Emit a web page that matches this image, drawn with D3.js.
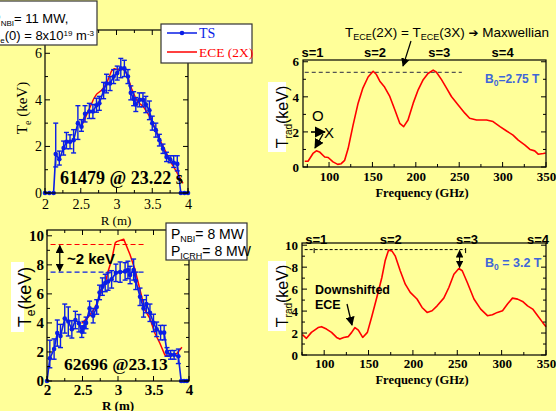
<!DOCTYPE html>
<html><head><meta charset="utf-8">
<script src="https://cdn.jsdelivr.net/npm/d3@7"></script>
<style>body{margin:0;background:#FFFF99;} svg{display:block}</style>
</head><body>
<svg id="c" width="556" height="411"></svg>
<script>
// ---------- DATA ----------
// Top-left: shot 61479 @ 23.22 s
const tsTopR  = [2.00,2.06,2.12,2.15,2.20,2.26,2.30,2.35,2.40,2.46,2.51,2.56,2.62,2.67,2.72,2.76,2.82,2.86,2.91,2.96,3.01,3.06,3.11,3.16,3.20,3.24,3.27,3.32,3.37,3.41,3.46,3.50,3.55,3.60,3.65,3.70,3.75,3.80,3.85,3.90,3.95,4.00];
const tsTopT  = [0,0,0,1.67,1.45,1.93,2.2,2.2,2.27,3.0,2.85,3.4,3.5,3.5,3.77,3.85,4.4,4.7,4.7,5.0,5.15,5.35,5.35,5.0,4.3,4.05,3.8,4.0,4.0,3.8,3.55,3.0,2.7,2.27,1.9,1.55,1.45,1.3,1.25,0,0,0];
const tsTopLo = [0,0,0,0.55,0.25,0.3,0.3,0.3,0.55,0.7,0.2,0.35,0.3,0.3,0.3,0.3,0.35,0.4,0.3,0.3,0.3,0.4,0.35,0.3,0.3,0.3,0.3,0.3,0.3,0.35,0.4,0.3,0.3,0.25,0.2,0.2,0.15,0.2,0.3,0,0,0];
const tsTopHi = [0,0,0,1.33,0.35,0.3,0.4,0.3,0.45,0.75,0.3,0.35,0.35,0.3,0.3,0.3,0.35,0.4,0.3,0.3,0.3,0.43,0.35,0.3,0.3,0.3,0.3,0.3,0.3,0.35,0.4,0.3,0.3,0.25,0.2,0.2,0.15,0.3,0.35,0,0,0];
const eceTopR = [2.51,2.59,2.68,2.72,2.79,2.86,2.93,2.97,3.02,3.07,3.12,3.16,3.21,3.26,3.30,3.37,3.44,3.50,3.56,3.63,3.70,3.77,3.84,3.93];
const eceTopT = [2.87,3.41,4.04,4.24,4.41,4.7,5.24,5.34,5.3,5.35,5.25,4.96,4.49,4.13,3.9,3.73,3.41,3.06,2.63,2.13,1.7,1.27,0.91,0.41];

// Bottom-left: shot 62696 @ 23.13 s
const tsBotR  = [2.00,2.04,2.10,2.145,2.19,2.25,2.30,2.35,2.40,2.45,2.49,2.52,2.55,2.60,2.65,2.70,2.74,2.78,2.82,2.86,2.91,2.97,3.03,3.10,3.14,3.17,3.22,3.25,3.31,3.36,3.40,3.45,3.50,3.545,3.60,3.65,3.69,3.74,3.79,3.85,3.89,3.93,3.97];
const tsBotT  = [0,1.56,2.2,3.3,3.1,4.3,4.1,3.56,4.2,3.98,3.4,3.7,4.0,5.0,4.5,5.1,6.1,6.5,6.75,6.85,7.0,7.45,7.5,7.55,7.65,7.3,7.65,6.9,5.8,5.0,5.3,4.7,4.0,3.56,3.33,3.33,2.0,1.8,1.8,1.7,0,0,0];
const tsBotLo = [0,0.65,0.7,0.9,0.8,1.0,1.0,0.6,0.6,0.6,0.4,0.4,0.4,0.5,0.5,0.5,0.5,0.6,0.6,0.6,0.6,0.6,0.7,0.6,0.6,0.6,0.7,0.6,0.6,0.6,0.6,0.6,0.6,0.5,0.5,0.5,0.3,0.3,0.3,0.5,0,0,0];
const tsBotHi = [0,1.25,0.7,0.9,0.8,1.0,1.0,0.6,0.6,0.6,0.4,0.4,0.4,0.5,0.5,0.5,0.5,0.6,0.6,0.6,0.6,0.6,0.7,0.6,0.6,0.6,0.75,0.6,0.6,0.6,0.6,0.6,0.6,0.5,0.5,0.5,0.3,0.3,0.3,0.5,0,0,0];
const eceBotR = [2.49,2.58,2.67,2.74,2.77,2.82,2.86,2.91,2.96,2.98,3.08,3.17,3.24,3.31,3.38,3.45,3.52,3.59,3.66,3.70,3.76,3.83,3.90];
const eceBotT = [3.98,4.4,4.98,5.8,6.3,6.74,7.54,8.34,9.5,9.6,9.77,8.69,7.66,6.28,4.9,4.3,3.29,2.6,1.79,1.72,1.75,1.9,2.32];

// Top-right: radiation temperature spectrum, B0 = 2.75 T
const radTopF = [72,75.8,81.5,85.4,89,95,99,104.6,110,114,118,122,127.7,133.5,139,145,150.8,154.6,158.5,164,170,175.8,181.5,186,191,197,202.7,208.5,214,220,223.8,229.6,235.4,241,248.8,256.5,262,270,281.5,289,297,304.6,312,318,325.8,331.5,337,341,347,349.6];
const radTopT = [0.33,0.33,0.77,0.92,0.86,0.57,0.54,0.29,0.15,0.19,0.38,1.05,2.39,3.64,4.5,5.13,5.46,5.27,4.89,4.56,4.02,3.26,2.49,2.3,2.68,3.64,4.4,4.98,5.33,5.52,5.4,4.98,4.5,4.02,3.54,3.07,2.78,2.68,2.68,2.59,2.3,2.05,1.82,1.53,1.25,1.0,0.92,0.73,0.77,0.8];

// Bottom-right: radiation temperature spectrum, B0 = 3.2 T
const radBotF = [75.5,80,85.6,93.2,97,102.6,108.3,114,117.7,122,127,131,134.7,138.5,143.4,148.7,153.6,159.3,165,168.7,172.5,176.3,180,185.7,191.4,197,204.6,210.3,216,221.6,227.3,234.8,240.5,246.2,251.8,255.6,261.3,268.8,276.4,284,289.6,295.2,301,306.6,312.2,318,323.6,329.2,335,340.6,346.2,350];
const radBotT = [1.85,1.52,2.06,2.5,2.58,2.36,2.06,1.6,1.45,1.6,1.67,2.06,2.5,2.27,1.6,2.06,3.48,5.24,7.06,8.58,9.55,9.48,9.03,7.67,6.45,5.7,5.1,4.33,3.88,4.03,4.48,5.18,6.15,7.36,7.88,7.67,6.6,5.1,4.18,3.58,3.67,3.88,4.03,4.64,5.18,5.09,4.88,4.48,4.18,3.58,2.97,2.58];

// Tick labels and annotation values
const rTicks = [2,2.5,3,3.5,4];
const rMinor = [2.25,2.75,3.25,3.75];
const teTopTicks = [0,2,4,6];
const teTopMinor = [1,3,5];
const teBotTicks = [0,2,4,6,8,10];
const teBotMinor = [1,3,5,7,9];
const fTicks = [100,150,200,250,300,350];
const fMinor = [75,125,175,225,275,325];
const tradTopTicks = [0,2,4,6];
const tradTopMinor = [1,3,5];
const tradBotTicks = [0,2,4,6,8,10];
const tradBotMinor = [1,3,5,7,9];
const harmLabels = ["s=1","s=2","s=3","s=4"];
const harmTopF = [81,153,227,300];
const harmBotF = [91,175,261,341];
const maxwTop = 5.4;      // T_ECE(2X)=T_ECE(3X) level
const peakBot = 9.6;      // s=2 peak level (bottom)
const teBotEce = 9.4, teBotTs = 7.5; // ~2 keV difference

// ---------- DRAWING ----------
const svg = d3.select("#c");
svg.append("rect").attr("width",556).attr("height",411).attr("fill","#FFFF99");
const SERIF = "'Liberation Serif','Times New Roman',serif";
const SANS = "'Liberation Sans',Arial,sans-serif";
const BLUE = "#0A1EE6", RED = "#FF0000";

const defs = svg.append("defs");
defs.append("marker").attr("id","ah").attr("viewBox","0 0 10 10").attr("refX",9).attr("refY",5)
  .attr("markerWidth",7).attr("markerHeight",7).attr("orient","auto-start-reverse")
  .append("path").attr("d","M0,0 L10,5 L0,10 z").attr("fill","#000");

function inwardTicks(g, x, y, xMaj, xMin, yMaj, yMin, sides) {
  const [x0,x1] = x.range(), [y0,y1] = y.range();
  const L = 5, l = 3;
  const seg = [];
  xMaj.forEach(v=>{ seg.push([x(v),y0,x(v),y0-L]); if(sides.top) seg.push([x(v),y1,x(v),y1+L]); });
  xMin.forEach(v=>{ seg.push([x(v),y0,x(v),y0-l]); if(sides.top) seg.push([x(v),y1,x(v),y1+l]); });
  yMaj.forEach(v=>{ seg.push([x0,y(v),x0+L,y(v)]); seg.push([x1,y(v),x1-L,y(v)]); });
  yMin.forEach(v=>{ seg.push([x0,y(v),x0+l,y(v)]); seg.push([x1,y(v),x1-l,y(v)]); });
  g.selectAll(null).data(seg).enter().append("line")
    .attr("x1",d=>d[0]).attr("y1",d=>d[1]).attr("x2",d=>d[2]).attr("y2",d=>d[3])
    .attr("stroke","#000").attr("stroke-width",1);
}
function frame(g, x, y) {
  const [x0,x1] = x.range(), [y0,y1] = y.range();
  g.append("rect").attr("x",x0).attr("y",y1).attr("width",x1-x0).attr("height",y0-y1)
    .attr("fill","none").attr("stroke","#000").attr("stroke-width",1.2);
}
function axisLabels(g, x, y, xt, yt, font, size, weight, xpad, ypad) {
  const ax = g.append("g").attr("transform",`translate(0,${y.range()[0]})`)
    .call(d3.axisBottom(x).tickValues(xt).tickSize(0).tickPadding(xpad).tickFormat(d3.format("")));
  const ay = g.append("g").attr("transform",`translate(${x.range()[0]},0)`)
    .call(d3.axisLeft(y).tickValues(yt).tickSize(0).tickPadding(ypad).tickFormat(d3.format("d")));
  [ax,ay].forEach(a=>{ a.select(".domain").remove();
    a.selectAll("text").attr("font-family",font).attr("font-size",size).attr("font-weight",weight).attr("fill","#000"); });
}
function tsSeries(g, x, y, R, T, lo, hi) {
  const pts = R.map((r,i)=>({r, t:T[i], lo:lo[i], hi:hi[i]}));
  const eb = g.append("g").attr("stroke",BLUE).attr("stroke-width",1.4);
  pts.filter(p=>p.lo>0||p.hi>0).forEach(p=>{
    eb.append("line").attr("x1",x(p.r)).attr("x2",x(p.r)).attr("y1",y(p.t-p.lo)).attr("y2",y(p.t+p.hi));
    eb.append("line").attr("x1",x(p.r)-2.5).attr("x2",x(p.r)+2.5).attr("y1",y(p.t-p.lo)).attr("y2",y(p.t-p.lo));
    eb.append("line").attr("x1",x(p.r)-2.5).attr("x2",x(p.r)+2.5).attr("y1",y(p.t+p.hi)).attr("y2",y(p.t+p.hi));
  });
  g.append("path").datum(pts).attr("fill","none").attr("stroke",BLUE).attr("stroke-width",1.6)
    .attr("d", d3.line().x(p=>x(p.r)).y(p=>y(p.t)));
  g.selectAll(null).data(pts).enter().append("circle")
    .attr("cx",p=>x(p.r)).attr("cy",p=>y(p.t)).attr("r",2.3).attr("fill",BLUE);
}
function redLine(g, x, y, X, Y, w) {
  g.append("path").datum(X.map((v,i)=>[v,Y[i]])).attr("fill","none").attr("stroke",RED)
    .attr("stroke-width",w||1.5).attr("stroke-linejoin","round")
    .attr("d", d3.line().x(d=>x(d[0])).y(d=>y(d[1])));
}

// ===== Top-left panel =====
{
  const g = svg.append("g");
  const x = d3.scaleLinear([2,4],[45,188]);
  const y = d3.scaleLinear([0,7],[193,30]);
  redLine(g,x,y,eceTopR,eceTopT,1.4);
  tsSeries(g,x,y,tsTopR,tsTopT,tsTopLo,tsTopHi);
  frame(g,x,y);
  inwardTicks(g,x,y,rTicks,rMinor,teTopTicks,teTopMinor,{top:true});
  axisLabels(g,x,y,rTicks,teTopTicks,SERIF,14,"normal",6,3);
  g.append("text").attr("x",116).attr("y",225).attr("text-anchor","middle")
    .attr("font-family",SERIF).attr("font-size",13).text("R (m)");
  const yl = g.append("text").attr("transform","translate(27,108) rotate(-90)").attr("text-anchor","middle")
    .attr("font-family",SERIF).attr("font-size",15);
  yl.append("tspan").text("T");
  yl.append("tspan").text("e").attr("font-size",10).attr("dy",4);
  yl.append("tspan").text(" (keV)").attr("dy",-4);
  g.append("text").attr("x",60).attr("y",184).attr("font-family",SERIF).attr("font-size",18)
    .attr("font-weight","bold").text("61479 @ 23.22 s");
  // legend
  const lg = g.append("g");
  lg.append("rect").attr("x",161).attr("y",24).attr("width",91).attr("height",39)
    .attr("fill","#fff").attr("stroke","#333").attr("stroke-width",1.2);
  lg.append("line").attr("x1",167).attr("x2",197).attr("y1",33).attr("y2",33).attr("stroke",BLUE).attr("stroke-width",1.5);
  lg.append("circle").attr("cx",182).attr("cy",33).attr("r",2.3).attr("fill",BLUE);
  lg.append("text").attr("x",199).attr("y",38).attr("font-family",SERIF).attr("font-size",14).attr("fill",BLUE).text("TS");
  lg.append("line").attr("x1",167).attr("x2",197).attr("y1",52).attr("y2",52).attr("stroke",RED).attr("stroke-width",1.5);
  lg.append("text").attr("x",199).attr("y",57).attr("font-family",SERIF).attr("font-size",13.5).attr("fill",RED).text("ECE (2X)");
  // info box (cut by the left edge, as in the reference)
  const ib = g.append("g");
  ib.append("rect").attr("x",-5).attr("y",1).attr("width",102).attr("height",44)
    .attr("fill","#fff").attr("stroke","#333").attr("stroke-width",1.2);
  const t1 = ib.append("text").attr("x",-8).attr("y",23).attr("font-family",SANS).attr("font-size",13);
  t1.append("tspan").text("P");
  t1.append("tspan").text("NBI").attr("font-size",8).attr("dy",2.5);
  t1.append("tspan").text("= 11 MW,").attr("dy",-2.5);
  const t2 = ib.append("text").attr("x",-7).attr("y",40).attr("font-family",SANS).attr("font-size",13);
  t2.append("tspan").text("n");
  t2.append("tspan").text("e").attr("font-size",8).attr("dy",2.5);
  t2.append("tspan").text("(0) = 8x10").attr("dy",-2.5);
  t2.append("tspan").text("19").attr("font-size",8).attr("dy",-4);
  t2.append("tspan").text(" m").attr("dy",4);
  t2.append("tspan").text("-3").attr("font-size",8).attr("dy",-4);
}

// ===== Bottom-left panel =====
{
  const g = svg.append("g");
  const x = d3.scaleLinear([2,4],[47,189]);
  const y = d3.scaleLinear([0,10.4],[381,230]);
  redLine(g,x,y,eceBotR,eceBotT,1.5);
  tsSeries(g,x,y,tsBotR,tsBotT,tsBotLo,tsBotHi);
  frame(g,x,y);
  inwardTicks(g,x,y,rTicks,rMinor,teBotTicks,teBotMinor,{top:true});
  axisLabels(g,x,y,rTicks,teBotTicks,SERIF,15,"bold",3,3);
  g.append("text").attr("x",118).attr("y",410).attr("text-anchor","middle")
    .attr("font-family",SERIF).attr("font-size",13).attr("font-weight","bold").text("R (m)");
  g.append("rect").attr("x",11).attr("y",262).attr("width",13).attr("height",70).attr("fill","#fff");
  const yl = g.append("text").attr("transform","translate(31,297) rotate(-90)").attr("text-anchor","middle")
    .attr("font-family",SANS).attr("font-size",18);
  yl.append("tspan").text("T");
  yl.append("tspan").text("e").attr("font-size",12).attr("dy",4);
  yl.append("tspan").text("(keV)").attr("dy",-4);
  g.append("line").attr("x1",x(2.05)).attr("x2",x(3.4)).attr("y1",y(teBotEce)).attr("y2",y(teBotEce))
    .attr("stroke",RED).attr("stroke-width",1.2).attr("stroke-dasharray","5,3");
  g.append("line").attr("x1",x(2.05)).attr("x2",x(3.4)).attr("y1",y(teBotTs)).attr("y2",y(teBotTs))
    .attr("stroke",BLUE).attr("stroke-width",1.2).attr("stroke-dasharray","5,3");
  g.append("line").attr("x1",x(2.18)).attr("x2",x(2.18)).attr("y1",y(teBotEce)+1).attr("y2",y(teBotTs)-1)
    .attr("stroke","#000").attr("stroke-width",1.2).attr("marker-start","url(#ah)").attr("marker-end","url(#ah)");
  g.append("text").attr("x",67).attr("y",264).attr("font-family",SANS).attr("font-size",15)
    .attr("font-weight","bold").text("~2 keV");
  g.append("text").attr("x",64).attr("y",370).attr("font-family",SERIF).attr("font-size",17.5)
    .attr("font-weight","bold").text("62696 @23.13");
  const ib = g.append("g");
  ib.append("rect").attr("x",166).attr("y",223).attr("width",81).attr("height",37)
    .attr("fill","#fff").attr("stroke","#333").attr("stroke-width",1.2);
  [["NBI","= 8 MW",239],["ICRH","= 8 MW",256]].forEach(([s,v,yy])=>{
    const t = ib.append("text").attr("x",171).attr("y",yy).attr("font-family",SANS).attr("font-size",14);
    t.append("tspan").text("P");
    t.append("tspan").text(s).attr("font-size",9).attr("dy",3);
    t.append("tspan").text(v).attr("dy",-3);
  });
}

// ===== Top-right panel =====
{
  const g = svg.append("g");
  const x = d3.scaleLinear([70,350],[303,546]);
  const y = d3.scaleLinear([0,6.1],[167,60]);
  g.append("line").attr("x1",x(72)).attr("x2",x(253)).attr("y1",y(maxwTop)).attr("y2",y(maxwTop))
    .attr("stroke","#555").attr("stroke-width",1.2).attr("stroke-dasharray","4,3");
  redLine(g,x,y,radTopF,radTopT,1.6);
  frame(g,x,y);
  inwardTicks(g,x,y,fTicks,fMinor,tradTopTicks,tradTopMinor,{top:false});
  axisLabels(g,x,y,fTicks,tradTopTicks,SERIF,13,"bold",5,4);
  g.append("text").attr("x",422).attr("y",197).attr("text-anchor","middle")
    .attr("font-family",SERIF).attr("font-size",12.5).attr("font-weight","bold").text("Frequency (GHz)");
  g.append("rect").attr("x",268).attr("y",82).attr("width",18).attr("height",70).attr("fill","#fff");
  const yl = g.append("text").attr("transform","translate(288,117) rotate(-90)").attr("text-anchor","middle")
    .attr("font-family",SANS).attr("font-size",16);
  yl.append("tspan").text("T");
  yl.append("tspan").text("rad").attr("font-size",10).attr("dy",4);
  yl.append("tspan").text("(keV)").attr("dy",-4);
  harmLabels.forEach((s,i)=>g.append("text").attr("x",x(harmTopF[i])).attr("y",57).attr("text-anchor","middle")
    .attr("font-family",SANS).attr("font-size",13).attr("font-weight","bold").text(s));
  const tt = g.append("text").attr("x",345).attr("y",37).attr("font-family",SANS).attr("font-size",13.5);
  tt.append("tspan").text("T");
  tt.append("tspan").text("ECE").attr("font-size",9).attr("dy",3);
  tt.append("tspan").text("(2X) = T").attr("dy",-3);
  tt.append("tspan").text("ECE").attr("font-size",9).attr("dy",3);
  tt.append("tspan").text("(3X) ").attr("dy",-3);
  tt.append("tspan").text("➔").attr("font-family","'DejaVu Sans',sans-serif").attr("font-size",12);
  tt.append("tspan").text(" Maxwellian");
  g.append("line").attr("x1",411).attr("y1",41).attr("x2",403).attr("y2",66)
    .attr("stroke","#000").attr("stroke-width",1.2).attr("marker-end","url(#ah)");
  const b = g.append("text").attr("x",485).attr("y",83).attr("font-family",SANS).attr("font-size",12)
    .attr("font-weight","bold").attr("fill","#3F66D8");
  b.append("tspan").text("B");
  b.append("tspan").text("0").attr("font-size",8.5).attr("dy",3);
  b.append("tspan").text("=2.75 T").attr("dy",-3);
  g.append("text").attr("x",312).attr("y",121).attr("font-family",SANS).attr("font-size",15).text("O");
  g.append("line").attr("x1",311).attr("y1",132).attr("x2",325).attr("y2",132)
    .attr("stroke","#000").attr("stroke-width",1.6).attr("marker-end","url(#ah)");
  g.append("text").attr("x",324).attr("y",138).attr("font-family",SANS).attr("font-size",15).text("X");
  g.append("line").attr("x1",323).attr("y1",134).attr("x2",315).attr("y2",148)
    .attr("stroke","#000").attr("stroke-width",1.4).attr("marker-end","url(#ah)");
}

// ===== Bottom-right panel =====
{
  const g = svg.append("g");
  const x = d3.scaleLinear([75,350],[302,546]);
  const y = d3.scaleLinear([0,10.2],[355,243]);
  g.append("line").attr("x1",x(78)).attr("x2",x(259)).attr("y1",y(peakBot)).attr("y2",y(peakBot))
    .attr("stroke","#000").attr("stroke-width",1).attr("stroke-dasharray","3,2");
  [88.7,259.4].forEach(f=>g.append("line").attr("x1",x(f)).attr("x2",x(f)).attr("y1",y(peakBot)-1.5).attr("y2",y(peakBot)+3.5)
    .attr("stroke","#000").attr("stroke-width",1));
  redLine(g,x,y,radBotF,radBotT,1.6);
  frame(g,x,y);
  inwardTicks(g,x,y,fTicks,fMinor,tradBotTicks,tradBotMinor,{top:false});
  axisLabels(g,x,y,fTicks,tradBotTicks,SERIF,13,"bold",4,4);
  g.append("text").attr("x",422).attr("y",384).attr("text-anchor","middle")
    .attr("font-family",SERIF).attr("font-size",12.5).attr("font-weight","bold").text("Frequency (GHz)");
  g.append("rect").attr("x",268).attr("y",261).attr("width",18).attr("height",70).attr("fill","#fff");
  const yl = g.append("text").attr("transform","translate(288,296) rotate(-90)").attr("text-anchor","middle")
    .attr("font-family",SANS).attr("font-size",16);
  yl.append("tspan").text("T");
  yl.append("tspan").text("rad").attr("font-size",10).attr("dy",4);
  yl.append("tspan").text("(keV)").attr("dy",-4);
  harmLabels.forEach((s,i)=>g.append("text").attr("x",x(harmBotF[i])).attr("y",244).attr("text-anchor","middle")
    .attr("font-family",SANS).attr("font-size",13).attr("font-weight","bold").text(s));
  g.append("line").attr("x1",x(252.6)).attr("x2",x(252.6)).attr("y1",y(peakBot)+1).attr("y2",y(7.88)-1)
    .attr("stroke","#000").attr("stroke-width",1.1).attr("marker-start","url(#ah)").attr("marker-end","url(#ah)");
  const b = g.append("text").attr("x",485).attr("y",267).attr("font-family",SANS).attr("font-size",12.5)
    .attr("font-weight","bold").attr("fill","#3F66D8");
  b.append("tspan").text("B");
  b.append("tspan").text("0").attr("font-size",8.5).attr("dy",3);
  b.append("tspan").text(" = 3.2 T").attr("dy",-3);
  g.append("text").attr("x",315).attr("y",294).attr("font-family",SANS).attr("font-size",12.5)
    .attr("font-weight","bold").text("Downshifted");
  g.append("text").attr("x",315).attr("y",309).attr("font-family",SANS).attr("font-size",12.5)
    .attr("font-weight","bold").text("ECE");
  g.append("line").attr("x1",347).attr("y1",304).attr("x2",352).attr("y2",325)
    .attr("stroke","#000").attr("stroke-width",1.3).attr("marker-end","url(#ah)");
}
</script>
</body></html>
